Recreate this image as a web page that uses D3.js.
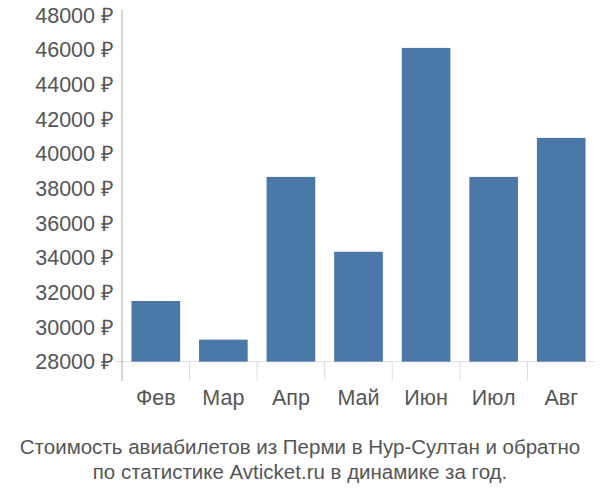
<!DOCTYPE html><html><head><meta charset="utf-8"><script src="https://cdn.jsdelivr.net/npm/d3@7"></script>
<style>body{margin:0}text{font-family:"Liberation Sans",Arial,sans-serif}</style></head><body><svg width="600" height="500"></svg><script>
const categories=["Фев","Мар","Апр","Май","Июн","Июл","Авг"];
const values=[31500,29270,38660,34340,46100,38660,40910];
const yTicks=[28000,30000,32000,34000,36000,38000,40000,42000,44000,46000,48000];
const svg=d3.select("svg");
const y=d3.scaleLinear().domain([27000,48000]).range([379,15]);
const x=d3.scaleBand().domain(categories).range([122,595]).paddingInner(0.28).paddingOuter(0.14);
const gy=y(28000);
svg.append("line").attr("x1",115).attr("x2",595).attr("y1",gy).attr("y2",gy).attr("stroke","#ddd");
const step=x.step();
categories.forEach((c,i)=>{const bx=122+step*(i+1);
 if(i<categories.length-1)svg.append("line").attr("x1",bx).attr("x2",bx).attr("y1",gy).attr("y2",381).attr("stroke","#ddd");});
svg.selectAll("rect").data(values).enter().append("rect").attr("x",(d,i)=>x(categories[i])).attr("width",x.bandwidth()).attr("y",d=>y(d)).attr("height",d=>gy-y(d)).attr("fill","#4c78a8");
svg.append("line").attr("x1",122).attr("x2",122).attr("y1",10).attr("y2",381).attr("stroke","#aaa");
svg.selectAll(".yl").data(yTicks).enter().append("text").attr("x",114).attr("y",d=>y(d)+7.5).attr("text-anchor","end").attr("font-size",21.5).attr("fill","#555").text(d=>d+" ₽");
svg.selectAll(".xl").data(categories).enter().append("text").attr("x",d=>x(d)+x.bandwidth()/2).attr("y",405).attr("text-anchor","middle").attr("font-size",21.5).attr("fill","#555").text(d=>d);
svg.append("text").attr("x",300).attr("y",454).attr("text-anchor","middle").attr("font-size",20.5).attr("fill","#555").text("Стоимость авиабилетов из Перми в Нур-Султан и обратно");
svg.append("text").attr("x",300).attr("y",479).attr("text-anchor","middle").attr("font-size",20.5).attr("fill","#555").text("по статистике Avticket.ru в динамике за год.");
</script></body></html>
